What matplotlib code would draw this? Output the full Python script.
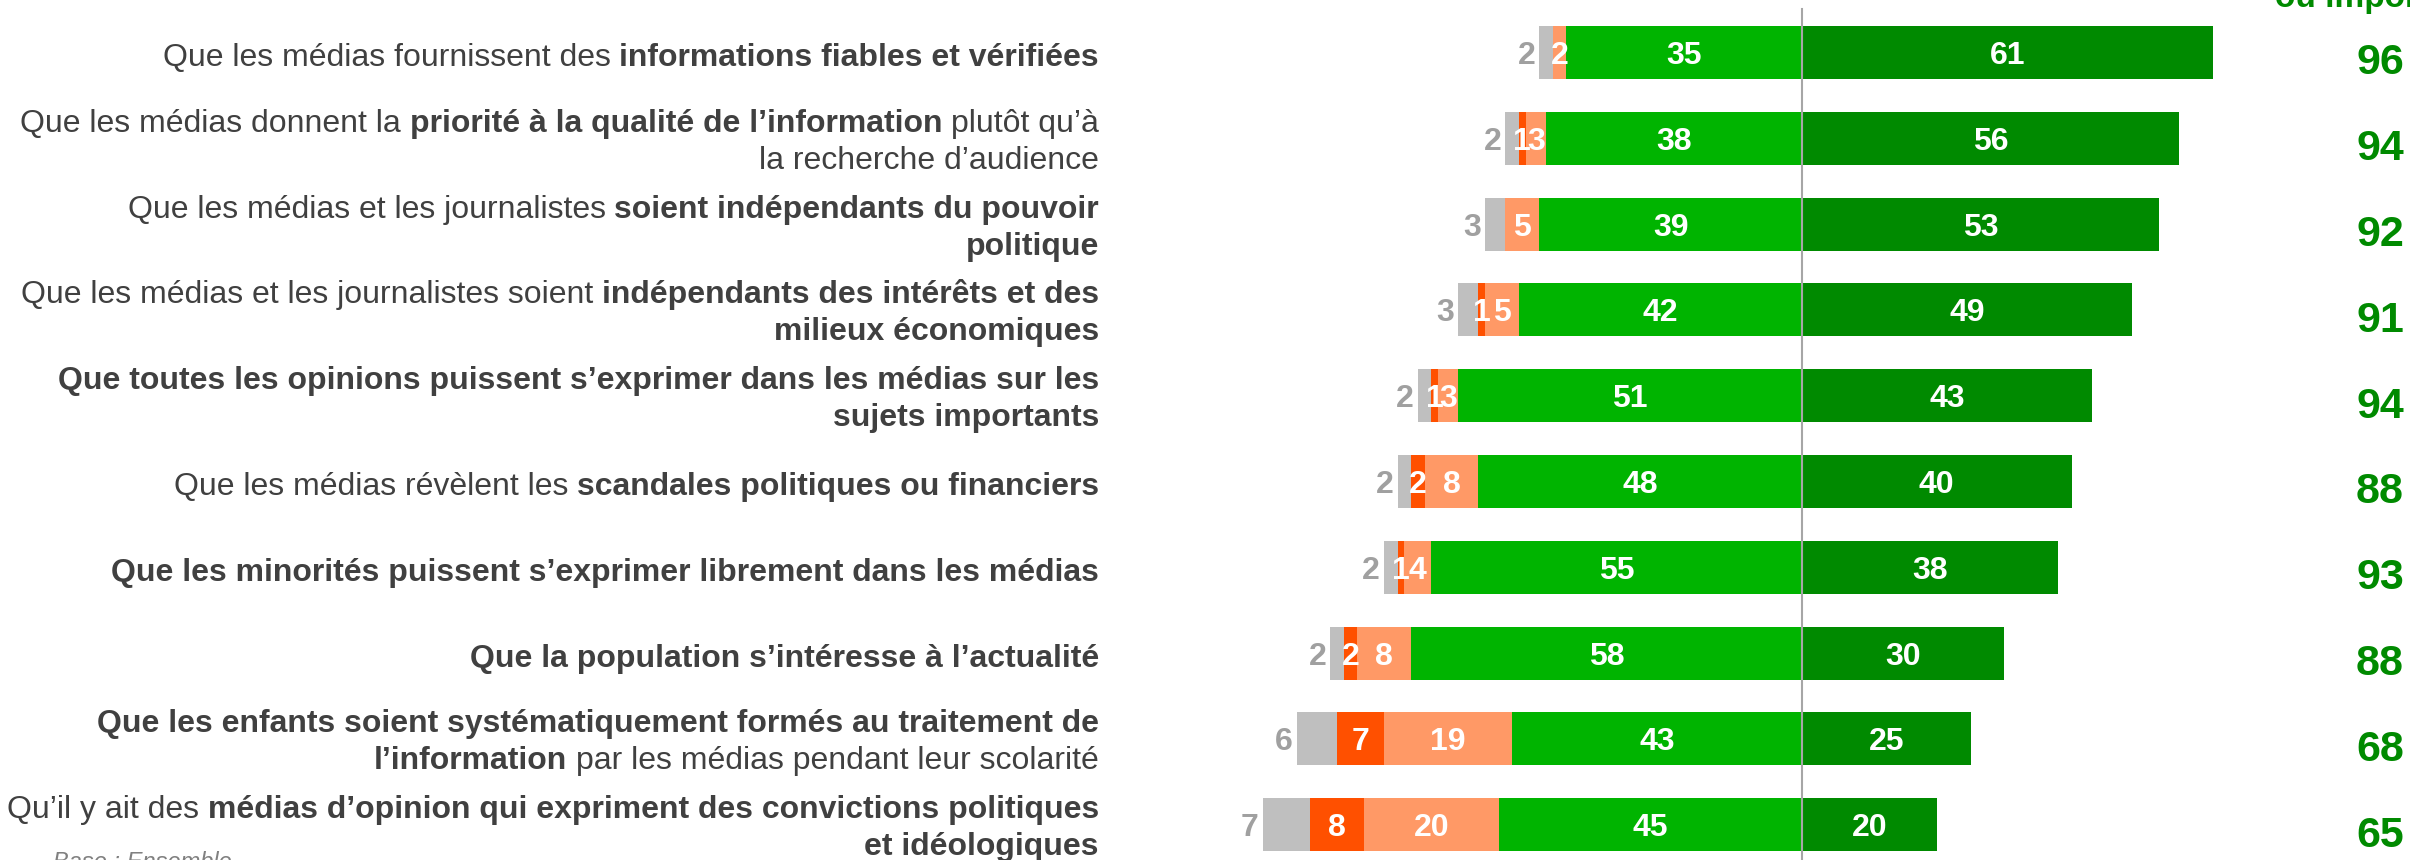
import numpy as np
import matplotlib
matplotlib.use("Agg")
import matplotlib.pyplot as plt
from matplotlib.transforms import IdentityTransform

# ---------------- data ----------------
labels = [
    [[("Que les médias fournissent des ", False), ("informations fiables et vérifiées", True)]],
    [[("Que les médias donnent la ", False), ("priorité à la qualité de l’information", True), (" plutôt qu’à", False)],
     [("la recherche d’audience", False)]],
    [[("Que les médias et les journalistes ", False), ("soient indépendants du pouvoir", True)],
     [("politique", True)]],
    [[("Que les médias et les journalistes soient ", False), ("indépendants des intérêts et des", True)],
     [("milieux économiques", True)]],
    [[("Que toutes les opinions puissent s’exprimer dans les médias sur les", True)],
     [("sujets importants", True)]],
    [[("Que les médias révèlent les ", False), ("scandales politiques ou financiers", True)]],
    [[("Que les minorités puissent s’exprimer librement dans les médias", True)]],
    [[("Que la population s’intéresse à l’actualité", True)]],
    [[("Que les enfants soient systématiquement formés au traitement de", True)],
     [("l’information", True), (" par les médias pendant leur scolarité", False)]],
    [[("Qu’il y ait des ", False), ("médias d’opinion qui expriment des convictions politiques", True)],
     [("et idéologiques", True)]],
]
nsp         = [2, 2, 3, 3, 2, 2, 2, 2, 6, 7]
pas_du_tout = [0, 1, 0, 1, 1, 2, 1, 2, 7, 8]
plutot_pas  = [2, 3, 5, 5, 3, 8, 4, 8, 19, 20]
plutot      = [35, 38, 39, 42, 51, 48, 55, 58, 43, 45]
tres        = [61, 56, 53, 49, 43, 40, 38, 30, 25, 20]
totals      = [96, 94, 92, 91, 94, 88, 93, 88, 68, 65]
header_text = "ou important"
base_text = "Base : Ensemble"

# ---------------- style ----------------
FAM = "Liberation Sans"
C_GRAY = "#BFBFBF"
C_DORANGE = "#FF5000"
C_LORANGE = "#FF9966"
C_LGREEN = "#00B400"
C_DGREEN = "#008A00"
C_TOTAL = "#008A00"
C_GRAYTXT = "#A0A0A0"
C_LABEL = "#404040"

W, H, DPI = 2410, 860, 100
fig = plt.figure(figsize=(W / DPI, H / DPI), dpi=DPI)
ax = fig.add_axes([0, 0, 1, 1])
center_px, unit_px = 1802, 6.74
row_px, first_px = 85.8, 52.5
ax.set_xlim(-center_px / unit_px, (W - center_px) / unit_px)
ax.set_ylim((H - first_px) / row_px, -first_px / row_px)
ax.axis("off")

n = len(totals)
y = np.arange(n)
bh = 0.62

pl = np.array(plutot); pp = np.array(plutot_pas); pd = np.array(pas_du_tout); ns = np.array(nsp)
tr = np.array(tres)
l1 = -pl
l2 = l1 - pp
l3 = l2 - pd
l4 = l3 - ns
ax.barh(y, tr, left=0, height=bh, color=C_DGREEN)
ax.barh(y, pl, left=l1, height=bh, color=C_LGREEN)
ax.barh(y, pp, left=l2, height=bh, color=C_LORANGE)
ax.barh(y, pd, left=l3, height=bh, color=C_DORANGE)
ax.barh(y, ns, left=l4, height=bh, color=C_GRAY)

ax.axvline(0, ymin=0, ymax=1 - 9 / H, color="#A6A6A6", lw=1.5, zorder=5)

VFS = 23
px_per_pt = DPI / 72.0
base_off = 0.358 * VFS * px_per_pt  # pixels

def put_val(xc, yi, s, color, ha="center", dx=0):
    X, Y = ax.transData.transform((xc, yi))
    fig.text(X + dx, Y - base_off, s, transform=IdentityTransform(), ha=ha, va="baseline",
             fontsize=VFS, fontweight="bold", color=color, family=FAM, zorder=6)

for i in range(n):
    put_val(tr[i] / 2, i, str(tr[i]), "white")
    put_val(l1[i] + pl[i] / 2, i, str(pl[i]), "white")
    if pp[i] > 0:
        put_val(l2[i] + pp[i] / 2, i, str(pp[i]), "white")
    if pd[i] > 0:
        put_val(l3[i] + pd[i] / 2, i, str(pd[i]), "white")
    put_val(l4[i], i, str(ns[i]), C_GRAYTXT, ha="right", dx=-4)
    # totals
    X, Y = ax.transData.transform((0, i))
    fig.text(2404, Y - 22, str(totals[i]), transform=IdentityTransform(), ha="right",
             va="baseline", fontsize=31, fontweight="bold", color=C_TOTAL, family=FAM)

# ---------------- category labels with mixed weight ----------------
LFS = 23
renderer = fig.canvas.get_renderer()

def twidth(s, bold):
    t = fig.text(0, 0, s, fontsize=LFS, fontweight="bold" if bold else "normal", family=FAM)
    w = t.get_window_extent(renderer).width
    t.remove()
    return w

space_w = {b: twidth("a a", b) - twidth("aa", b) for b in (False, True)}
x_right = 1099
line_gap = 37
for i, lines in enumerate(labels):
    X, Yc = ax.transData.transform((0, i))
    nl = len(lines)
    base_mid = Yc - (13.5 if nl == 1 else 12)  # display coords (up positive)
    for k, segs in enumerate(lines):
        yb = base_mid + (nl - 1) * line_gap / 2 - k * line_gap
        x = x_right
        for s, b in reversed(segs):
            nt = len(s) - len(s.rstrip(" "))
            nlead = len(s) - len(s.lstrip(" "))
            core = s.strip(" ")
            x -= nt * space_w[b]
            fig.text(x, yb, core, transform=IdentityTransform(), ha="right", va="baseline",
                     fontsize=LFS, fontweight="bold" if b else "normal", color=C_LABEL, family=FAM)
            x -= twidth(core, b)
            x -= nlead * space_w[b]

# header (cut at top right) and base note
fig.text(2275, H - 7, header_text, transform=IdentityTransform(), ha="left", va="baseline",
         fontsize=24, fontweight="bold", color=C_TOTAL, family=FAM)
fig.text(53, H - 851, base_text, transform=IdentityTransform(), ha="left", va="top",
         fontsize=17, style="italic", color="#808080", family=FAM)

fig.savefig("out.png", dpi=DPI)
